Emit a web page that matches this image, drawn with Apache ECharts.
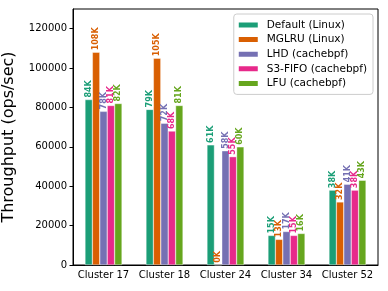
<!DOCTYPE html>
<html><head><meta charset="utf-8">
<script src="https://cdn.jsdelivr.net/npm/echarts@6/dist/echarts.min.js"></script>
<style>html,body{margin:0;padding:0;background:#fff}#c{width:388px;height:291px}</style>
</head><body><div id="c"></div>
<script>
const categories = ['Cluster 17','Cluster 18','Cluster 24','Cluster 34','Cluster 52'];
const seriesNames = ['Default (Linux)','MGLRU (Linux)','LHD (cachebpf)','S3-FIFO (cachebpf)','LFU (cachebpf)'];
const colors = ['#1b9e77','#d95f02','#7570b3','#e7298a','#66a61e'];
const defaultLinux = [84000, 79000, 61000, 15000, 38000];
const mglruLinux   = [108000, 105000, 0, 13000, 32000];
const lhd          = [78000, 72000, 58000, 17000, 41000];
const s3fifo       = [81000, 68000, 55000, 15000, 38000];
const lfu          = [82000, 81000, 60000, 16000, 43000];
const yTicks = [0,20000,40000,60000,80000,100000,120000];
const allData = [defaultLinux, mglruLinux, lhd, s3fifo, lfu];
const FONT = 'DejaVu Sans';
const chart = echarts.init(document.getElementById('c'), null, {renderer:'canvas'});
chart.setOption({
  animation:false,
  textStyle:{fontFamily:FONT},
  grid:{left:73,right:10,top:9,bottom:26,show:true,borderColor:'#000',borderWidth:1,backgroundColor:'transparent',
    containLabel:false,outerBoundsMode:'none'},
  legend:{
    right:15, top:14, orient:'vertical', itemWidth:21, itemHeight:7, itemGap:2.6,
    padding:[5,6,5,3], borderColor:'#ccc', borderWidth:1, borderRadius:3, backgroundColor:'#fff',
    textStyle:{fontFamily:FONT,fontSize:10.5,lineHeight:12,color:'#000',padding:[0,0,0,3]}, icon:'rect',
    data:seriesNames
  },
  xAxis:{type:'category',data:categories,
    axisLine:{lineStyle:{color:'#000'}},
    axisTick:{alignWithLabel:true,length:3.5,lineStyle:{color:'#000'}},
    axisLabel:{fontFamily:FONT,fontSize:10,color:'#000',margin:5,interval:0}},
  yAxis:{type:'value',min:0,max:130000,interval:10000,
    name:'Throughput (ops/sec)',nameLocation:'middle',nameGap:56,
    nameTextStyle:{fontFamily:FONT,fontSize:16,color:'#000'},
    axisLine:{show:true,lineStyle:{color:'#000'}},
    axisTick:{show:true,length:3.5,lineStyle:{color:'#000'},customValues:yTicks},
    axisLabel:{fontFamily:FONT,fontSize:10,color:'#000',margin:6,customValues:yTicks,formatter:v=>String(v)},
    splitLine:{show:false}},
  series: seriesNames.map((n,i)=>({
    name:n,type:'bar',data:allData[i],barWidth:7.4,barGap:'0%',
    itemStyle:{color:colors[i],borderColor:'#fff',borderWidth:0.4},
    labelLayout:{hideOverlap:false},
    label:{show:true,position:'top',rotate:90,align:'left',verticalAlign:'middle',distance:2,
      formatter:p=>Math.round(p.value/1000)+'K',
      fontFamily:FONT,fontSize:8,lineHeight:7,fontWeight:'bold',color:colors[i],
      backgroundColor:'#fff',padding:0}
  }))
});
</script></body></html>
